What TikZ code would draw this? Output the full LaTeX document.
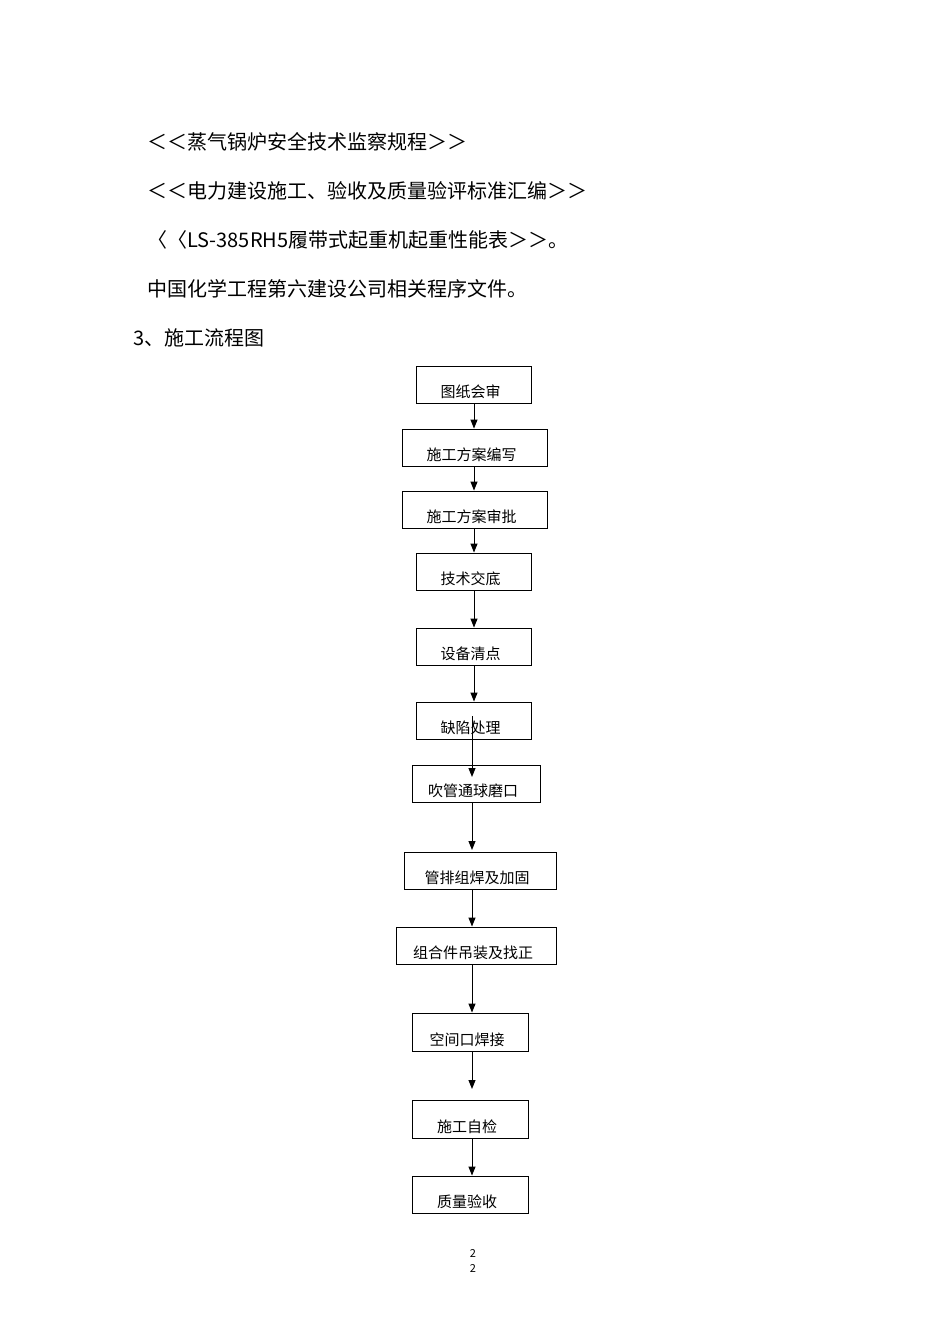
\documentclass[tikz,border=0pt]{standalone}
\usepackage{fontspec}
\setmainfont{Noto Sans CJK SC}
\usetikzlibrary{calc,arrows.meta}
\begin{document}
\begin{tikzpicture}[x=1pt,y=-1pt,
  box/.style={draw,line width=0.9pt,inner sep=0pt},
  lbl/.style={anchor=base,font=\fontsize{15}{15}\selectfont,inner sep=0pt},
  hd/.style={anchor=west,font=\fontsize{20}{20}\selectfont,inner sep=0pt},
  arr/.style={line width=1pt,-{Triangle[length=9pt,width=7pt]}}]
\useasboundingbox (0,0) rectangle (950,1344);
\node[hd] (h1) at (147,142) {＜＜蒸气锅炉安全技术监察规程＞＞};
\node[hd] (h2) at (147,191) {＜＜电力建设施工、验收及质量验评标准汇编＞＞};
\node[hd] (h3) at (147,240) {〈〈LS-385RH5履带式起重机起重性能表＞＞。};
\node[hd] (h4) at (147,289) {中国化学工程第六建设公司相关程序文件。};
\node[hd] (h5) at (133,338) {3、施工流程图};
\foreach \n/\l/\t/\r/\b/\s in {
 1/416/366/531/403/图纸会审,
 2/402/429/547/466/施工方案编写,
 3/402/491/547/528/施工方案审批,
 4/416/553/531/590/技术交底,
 5/416/628/531/665/设备清点,
 6/416/702/531/739/缺陷处理,
 7/412/765/540/802/吹管通球磨口,
 8/404/852/556/889/管排组焊及加固,
 9/396/927/556/964/组合件吊装及找正,
 10/412/1013/528/1051/空间口焊接,
 11/412/1100/528/1138/施工自检,
 12/412/1176/528/1213/质量验收}{
 \node[box,minimum width={(\r-\l)*1pt},minimum height={(\b-\t)*1pt}] (b\n) at ({(\l+\r)/2},{(\t+\b)/2}) {};
 \node[lbl] (t\n) at ({(\l+\r)/2-3},\b-6) {\s};
}
\draw[arr] (b1.south -| 474,0) -- (b2.north -| 474,0);
\draw[arr] (b2.south -| 474,0) -- (b3.north -| 474,0);
\draw[arr] (b3.south -| 474,0) -- (b4.north -| 474,0);
\draw[arr] (b4.south -| 474,0) -- (b5.north -| 474,0);
\draw[arr] (b5.south -| 474,0) -- (b6.north -| 474,0);
\coordinate (c6) at (472,716);
\coordinate (c7) at (472,777);
\draw[arr] (c6) -- (c7);
\coordinate (c8) at (472,850);
\draw[arr] (b7.south -| 472,0) -- (c8);
\draw[arr] (b8.south -| 472,0) -- (b9.north -| 472,0);
\draw[arr] (b9.south -| 472,0) -- (b10.north -| 472,0);
\coordinate (c11) at (472,1089);
\draw[arr] (b10.south -| 472,0) -- (c11);
\draw[arr] (b11.south -| 472,0) -- (b12.north -| 472,0);
\node[font=\fontsize{11}{11}\selectfont\rmfamily] (p1) at (473,1253) {2};
\node[font=\fontsize{11}{11}\selectfont\rmfamily] (p2) at (473,1268) {2};
\end{tikzpicture}
\end{document}
